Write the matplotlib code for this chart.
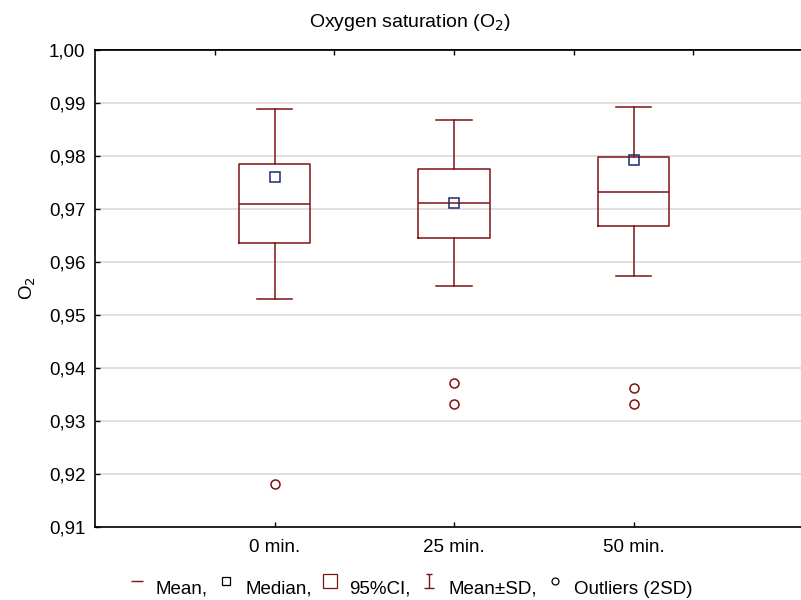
import matplotlib
matplotlib.use("Agg")
import numpy as np
import matplotlib.pyplot as plt
from matplotlib.lines import Line2D
from matplotlib.path import Path
from matplotlib.legend_handler import HandlerLine2D
from matplotlib.ticker import FuncFormatter, MultipleLocator

plt.rcParams['font.family'] = ['Liberation Sans', 'DejaVu Sans']

categories = ["0 min.", "25 min.", "50 min."]
means = [0.9710, 0.9711, 0.9733]
medians = [0.9761, 0.9711, 0.9792]
ci_low = [0.9635, 0.9646, 0.9667]
ci_high = [0.9784, 0.9775, 0.9799]
sd_low = [0.9530, 0.9555, 0.9573]
sd_high = [0.9888, 0.9867, 0.9893]
outliers = [[0.9181], [0.9371, 0.9332], [0.9362, 0.9332]]

RED = '#7f1212'
NAVY = '#1f2b6e'

fig = plt.figure(figsize=(8.01, 6.0), dpi=100)
ax = fig.add_axes([95 / 801, 73 / 600, 706 / 801, 477 / 600])

stats = []
for i in range(len(categories)):
    stats.append(dict(med=means[i], q1=ci_low[i], q3=ci_high[i],
                      whislo=sd_low[i], whishi=sd_high[i],
                      fliers=outliers[i], mean=medians[i], label=categories[i]))

positions = list(range(1, len(categories) + 1))
ax.bxp(stats, positions=positions, widths=0.4, capwidths=0.2,
       showmeans=True, showfliers=True,
       boxprops=dict(color=RED, linewidth=1.1),
       medianprops=dict(color=RED, linewidth=1.1),
       whiskerprops=dict(color=RED, linewidth=1.1),
       capprops=dict(color=RED, linewidth=1.1),
       flierprops=dict(marker='o', markerfacecolor='none', markeredgecolor=RED,
                       markersize=6.5, markeredgewidth=1.1),
       meanprops=dict(marker='s', markerfacecolor='none', markeredgecolor=NAVY,
                      markersize=6.5, markeredgewidth=1.1),
       zorder=3)

ax.set_xlim(0, 706 / 179.5)
ax.set_ylim(0.91, 1.00)
ax.yaxis.set_major_locator(MultipleLocator(0.01))
ax.yaxis.set_major_formatter(FuncFormatter(lambda v, p: f"{v:.2f}".replace('.', ',')))
ax.set_xticks(positions)
ax.set_xticklabels(categories)
ax.grid(axis='y', color='#dddddd', linewidth=1.3, zorder=0)
ax.set_axisbelow(True)

ax.spines['right'].set_visible(False)
for s in ['left', 'top', 'bottom']:
    ax.spines[s].set_linewidth(1.2)
    ax.spines[s].set_color('black')

ax.tick_params(axis='y', direction='in', length=3.5, width=1.0, pad=7, labelsize=13.5)
ax.tick_params(axis='x', direction='in', length=3.5, width=1.0, pad=9, labelsize=13.5)

sec = ax.secondary_xaxis('top')
sec.set_xticks([2 / 3, 4 / 3, 2, 8 / 3, 10 / 3])
sec.set_xticklabels([])
sec.tick_params(direction='in', length=3.5, width=1.0)
sec.spines['top'].set_linewidth(1.2)

ax.set_ylabel("O$_2$", fontsize=13.5, labelpad=8)
fig.text(0.512, 0.962, "Oxygen saturation (O$_2$)", ha='center', va='center', fontsize=14)


class RaisedHandler(HandlerLine2D):
    def create_artists(self, legend, orig_handle, xdescent, ydescent, width, height, fontsize, trans):
        arts = super().create_artists(legend, orig_handle, xdescent, ydescent, width, height,
                                      fontsize, trans)
        for a in arts:
            a.set_ydata(np.asarray(a.get_ydata()) + 0.45 * height)
        return arts


Ibeam = Path([(-0.45, 1), (0.45, 1), (0, 1), (0, -1), (-0.7, -1), (0.7, -1)],
             [Path.MOVETO, Path.LINETO, Path.MOVETO, Path.LINETO, Path.MOVETO, Path.LINETO])
handles = [
    Line2D([], [], color=RED, marker='_', linestyle='none', markersize=9, markeredgewidth=1.0),
    Line2D([], [], color='black', marker='s', markerfacecolor='none', linestyle='none',
           markersize=6, markeredgewidth=0.9),
    Line2D([], [], color=RED, marker='s', markerfacecolor='none', linestyle='none',
           markersize=9.5, markeredgewidth=0.9),
    Line2D([], [], color=RED, marker=Ibeam, linestyle='none', markersize=10, markeredgewidth=1.0),
    Line2D([], [], color='black', marker='o', markerfacecolor='none', linestyle='none',
           markersize=5, markeredgewidth=0.9),
]
labels = ["Mean,", "Median,", "95%CI,", "Mean±SD,", "Outliers (2SD)"]
fig.legend(handles, labels, loc='center', bbox_to_anchor=(0.512, 0.018), ncol=5,
           frameon=False, fontsize=13.5, handlelength=1.0, handletextpad=0.5,
           columnspacing=0.5, borderaxespad=0,
           handler_map={Line2D: RaisedHandler()})

fig.savefig("out.png", dpi=100)
